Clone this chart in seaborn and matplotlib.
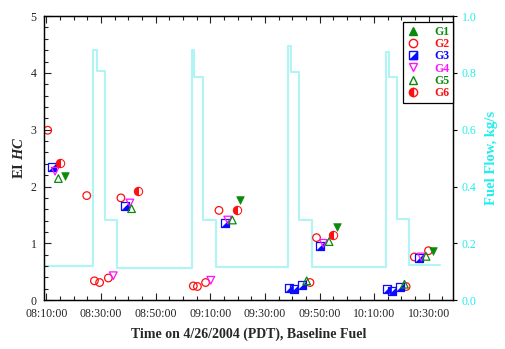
import pandas as pd
import seaborn as sns
import matplotlib
matplotlib.use("Agg")
import matplotlib.pyplot as plt
from matplotlib.lines import Line2D
from matplotlib.ticker import MultipleLocator, FuncFormatter

# times are minutes after 08:00
g1_t = [16.8, 80.9, 116.3, 151.5]
g1_v = [2.18, 1.77, 1.28, 0.87]
g2_t = [10.5, 24.8, 27.6, 29.5, 32.7, 37.3, 63.8, 65.3, 68.3, 73.2, 106.5, 108.9, 141.7, 144.7, 149.9]
g2_v = [2.99, 1.84, 0.34, 0.31, 0.39, 1.80, 0.25, 0.24, 0.31, 1.58, 0.31, 1.10, 0.24, 0.76, 0.87]
g3_t = [12.0, 38.8, 75.4, 99.0, 100.8, 103.7, 110.2, 134.6, 136.7, 139.3, 146.5]
g3_v = [2.34, 1.65, 1.36, 0.22, 0.19, 0.27, 0.96, 0.19, 0.16, 0.24, 0.74]
g4_t = [13.2, 34.5, 40.6, 70.2, 76.4, 111.4, 147.3]
g4_v = [2.27, 0.43, 1.71, 0.35, 1.41, 1.00, 0.76]
g5_t = [14.4, 41.2, 78.1, 105.3, 113.5, 141.1, 149.0]
g5_v = [2.14, 1.61, 1.41, 0.34, 1.03, 0.28, 0.77]
g6_t = [15.1, 43.7, 79.8, 115.1]
g6_v = [2.41, 1.92, 1.58, 1.14]

fuel_t = [9.0, 27.0, 28.4, 31.6, 36.0, 63.3, 64.2, 67.2, 72.1, 98.4, 99.5, 102.6,
          107.3, 134.3, 135.4, 138.3, 142.9, 154.1]
fuel_v = [0.119, 0.882, 0.805, 0.282, 0.113, 0.882, 0.784, 0.282, 0.115, 0.896, 0.804,
          0.282, 0.115, 0.872, 0.784, 0.287, 0.125, 0.125]

sns.set_theme(style="ticks")
plt.rcParams["font.family"] = ["Liberation Serif", "DejaVu Serif"]
plt.rcParams["mathtext.fontset"] = "custom"
plt.rcParams["mathtext.it"] = "Liberation Serif:italic:bold"
plt.rcParams["mathtext.rm"] = "Liberation Serif:bold"

GREEN = "#0a8a0a"
RED = "#ff1010"
BLUE = "#0a0aff"
MAG = "#ff10ff"
CYAN = "#22eeee"

fig = plt.figure(figsize=(5.06, 3.49), dpi=100)
ax = fig.add_axes([0.086, 0.140, 0.810, 0.814])
ax2 = ax.twinx()

# fuel flow step trace on the right axis
fuel = pd.DataFrame({"t": fuel_t, "flow": fuel_v})
sns.lineplot(data=fuel, x="t", y="flow", ax=ax2, color="#b0f4f4", lw=1.5,
             drawstyle="steps-post", sort=False, errorbar=None)

ms = 30
d1 = pd.DataFrame({"t": g1_t, "v": g1_v})
d2 = pd.DataFrame({"t": g2_t, "v": g2_v})
d3 = pd.DataFrame({"t": g3_t, "v": g3_v})
d4 = pd.DataFrame({"t": g4_t, "v": g4_v})
d5 = pd.DataFrame({"t": g5_t, "v": g5_v})
d6 = pd.DataFrame({"t": g6_t, "v": g6_v})

tri_lr = [(-1, -1), (1, -1), (1, 1)]  # lower-right half of the square

sns.scatterplot(data=d2, x="t", y="v", ax=ax, marker="o", s=ms, facecolor="none",
                edgecolor=RED, linewidth=0.9)
sns.scatterplot(data=d3, x="t", y="v", ax=ax, marker="s", s=ms, facecolor="white",
                edgecolor=BLUE, linewidth=0.9)
sns.scatterplot(data=d3, x="t", y="v", ax=ax, marker=tri_lr, s=ms, color=BLUE,
                edgecolor=BLUE, linewidth=0.5)
sns.scatterplot(data=d4, x="t", y="v", ax=ax, marker="v", s=ms, facecolor="none",
                edgecolor=MAG, linewidth=0.9)
sns.scatterplot(data=d5, x="t", y="v", ax=ax, marker="^", s=ms, facecolor="none",
                edgecolor=GREEN, linewidth=0.9)
sns.lineplot(data=d6, x="t", y="v", ax=ax, marker="o", markersize=6, linestyle="none",
             color=RED, fillstyle="left", markerfacecoloralt="white",
             markeredgecolor=RED, sort=False, errorbar=None)
sns.scatterplot(data=d1, x="t", y="v", ax=ax, marker="v", s=ms, color=GREEN,
                edgecolor=GREEN, linewidth=0.5)

ax.set_zorder(ax2.get_zorder() + 1)
ax.patch.set_visible(False)

ax.set_xlim(8.97, 159.0)
ax.set_ylim(0, 5)
ax2.set_ylim(0, 1.0)


def hhmm(x, pos):
    m = int(round(x))
    return f"{8 + m // 60:02d}:{m % 60:02d}:00"


ax.xaxis.set_major_formatter(FuncFormatter(hhmm))
ax.xaxis.set_minor_locator(MultipleLocator(5))
ax.set_xticks([10, 30, 50, 70, 90, 110, 130, 150])
ax.yaxis.set_major_locator(MultipleLocator(1))
ax.yaxis.set_minor_locator(MultipleLocator(0.2))
ax2.yaxis.set_major_locator(MultipleLocator(0.2))
ax2.yaxis.set_major_formatter(FuncFormatter(lambda v, p: f"{v:.1f}"))

ax.tick_params(axis="x", which="both", direction="in", top=True, labelsize=8.5,
               colors="#222222", pad=6)
ax.tick_params(axis="x", which="major", length=5, width=0.8)
ax.tick_params(axis="x", which="minor", length=3, width=0.8)
ax.tick_params(axis="y", which="both", direction="in", right=False, labelsize=8.5,
               colors="#222222", pad=5)
ax.tick_params(axis="y", which="major", length=5, width=0.8)
ax.tick_params(axis="y", which="minor", length=3, width=0.8)
ax2.tick_params(axis="y", direction="out", length=3, width=0.8, labelsize=8.5,
                colors="black", labelcolor=CYAN, pad=3)

for a in (ax, ax2):
    for sp in a.spines.values():
        sp.set_color("black")
        sp.set_linewidth(0.9)

ax.set_xlabel("Time on 4/26/2004 (PDT), Baseline Fuel", fontsize=10,
              fontweight="bold", labelpad=5)
ax.set_ylabel("EI $\\mathit{HC}$", fontsize=10.5, fontweight="bold", labelpad=3)
ax2.set_ylabel("Fuel Flow, kg/s", fontsize=10.5, fontweight="bold", color=CYAN,
               labelpad=6)

# legend: G1 shows an up triangle in the key although the points are down triangles
handles = [
    Line2D([], [], marker="^", ls="none", color=GREEN, markersize=6),
    Line2D([], [], marker="o", ls="none", markerfacecolor="none", markeredgecolor=RED,
           markersize=6),
    (Line2D([], [], marker="s", ls="none", markerfacecolor="white", markeredgecolor=BLUE,
            markersize=5.5),
     Line2D([], [], marker=tri_lr, ls="none", color=BLUE, markersize=5.5)),
    Line2D([], [], marker="v", ls="none", markerfacecolor="none", markeredgecolor=MAG,
           markersize=6),
    Line2D([], [], marker="^", ls="none", markerfacecolor="none", markeredgecolor=GREEN,
           markersize=6),
    Line2D([], [], marker="o", ls="none", color=RED, fillstyle="left",
           markerfacecoloralt="white", markersize=6),
]
labels = ["G1", "G2", "G3", "G4", "G5", "G6"]
label_colors = [GREEN, RED, BLUE, MAG, GREEN, RED]
leg = ax.legend(handles, labels, loc="upper right", bbox_to_anchor=(0.9985, 0.978),
                frameon=True, fancybox=False, edgecolor="black", framealpha=1,
                prop={"weight": "bold", "size": 8.5}, handlelength=1.0,
                handletextpad=1.3, labelspacing=0.02, borderpad=0.3,
                borderaxespad=0)
leg.get_frame().set_linewidth(0.9)
for txt, c in zip(leg.get_texts(), label_colors):
    txt.set_color(c)

fig.savefig("out.png", dpi=100)
